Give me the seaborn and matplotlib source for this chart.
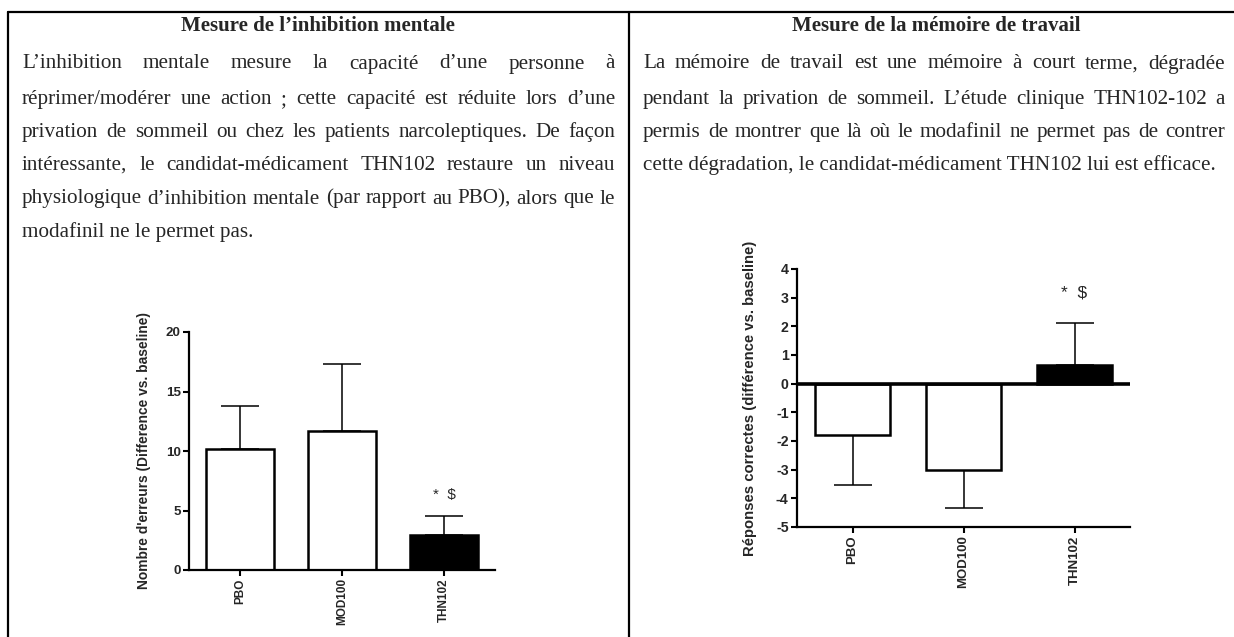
import matplotlib
matplotlib.use("Agg")
import matplotlib.pyplot as plt
from matplotlib.lines import Line2D
import seaborn as sns

# ---- data -------------------------------------------------------------
categories = ["PBO", "MOD100", "THN102"]

# left panel: number of errors (difference vs. baseline)
errors_mean = [10.2, 11.7, 2.9]
errors_sem_end = [13.8, 17.3, 4.5]
errors_colors = ["white", "white", "black"]
errors_yticks = [0, 5, 10, 15, 20]

# right panel: correct answers (difference vs. baseline)
correct_mean = [-1.8, -3.0, 0.65]
correct_sem_end = [-3.55, -4.35, 2.1]
correct_colors = ["white", "white", "black"]
correct_yticks = [-5, -4, -3, -2, -1, 0, 1, 2, 3, 4]

sig_label = "*  $"
sig_left_y = 6.3
sig_right_y = 3.15

left_title = "Mesure de l’inhibition mentale"
left_text = [
    "L’inhibition mentale mesure la capacité d’une personne à",
    "réprimer/modérer  une action ; cette capacité est réduite lors d’une",
    "privation de sommeil ou chez les patients narcoleptiques. De façon",
    "intéressante, le candidat-médicament THN102 restaure un niveau",
    "physiologique d’inhibition mentale (par rapport au PBO), alors que le",
    "modafinil ne le permet pas.",
]
right_title = "Mesure de la mémoire de travail"
right_text = [
    "La mémoire de travail est une mémoire à court terme, dégradée",
    "pendant la privation de sommeil. L’étude clinique THN102-102 a",
    "permis de montrer que là où le modafinil ne permet pas de contrer",
    "cette dégradation, le candidat-médicament THN102 lui est efficace.",
]

# ---- figure -----------------------------------------------------------
W, H = 1234, 637
sns.set_style("ticks")
plt.rcParams["font.family"] = ["Liberation Sans", "DejaVu Sans"]
plt.rcParams["axes.unicode_minus"] = False

fig = plt.figure(figsize=(W / 100, H / 100), dpi=100)
renderer = fig.canvas.get_renderer()

serif = ["Liberation Serif", "DejaVu Serif"]
body_size = 15.2
line_y = [68.5, 104, 137, 170, 203.5, 237]


def fx(px):
    return px / W


def fy(py):
    return 1 - py / H


def write_paragraph(lines, x0, x1):
    # justified lines, the last one left aligned
    for i, line in enumerate(lines):
        y = fy(line_y[i])
        if i == len(lines) - 1:
            fig.text(fx(x0), y, line, family=serif, fontsize=body_size, va="baseline")
            continue
        words = line.split()
        texts = [fig.text(0, y, w, family=serif, fontsize=body_size, va="baseline")
                 for w in words]
        widths = [t.get_window_extent(renderer).width for t in texts]
        gap = (x1 - x0 - sum(widths)) / (len(words) - 1)
        x = x0
        for t, w in zip(texts, widths):
            t.set_x(fx(x))
            x += w + gap


# table borders
for line in [
    Line2D([fx(8), 1], [fy(11.5), fy(11.5)]),
    Line2D([fx(8), fx(8)], [0, fy(11.5)]),
    Line2D([fx(628.5), fx(628.5)], [0, fy(11.5)]),
]:
    line.set_color("black")
    line.set_linewidth(1.6)
    fig.add_artist(line)

fig.text(fx(318), fy(30.7), left_title, family=serif, fontsize=15,
         fontweight="bold", ha="center", va="baseline")
fig.text(fx(936), fy(30.7), right_title, family=serif, fontsize=15,
         fontweight="bold", ha="center", va="baseline")
write_paragraph(left_text, 22, 615)
write_paragraph(right_text, 643, 1225)


def bar_panel(ax, means, ends, colors, yticks, ylabel, tick_size, cat_size, label_size):
    sns.barplot(x=categories, y=means, hue=categories, palette=colors,
                saturation=1, width=0.67, edgecolor="black", linewidth=1.8,
                legend=False, ax=ax, zorder=2)
    lower = [m - e if e < m else 0 for m, e in zip(means, ends)]
    upper = [e - m if e > m else 0 for m, e in zip(means, ends)]
    ax.errorbar(range(len(categories)), means, yerr=[lower, upper], fmt="none",
                ecolor="black", elinewidth=1.1, capsize=13.7, capthick=1.1, zorder=1)
    ax.set_xlim(-0.5, len(categories) - 0.5)
    ax.set_ylim(yticks[0], yticks[-1])
    ax.set_yticks(yticks)
    ax.set_xticks(range(len(categories)))
    ax.set_xticklabels(categories, rotation=90, fontsize=cat_size, fontweight="bold")
    for lab in ax.get_yticklabels():
        lab.set_fontweight("bold")
        lab.set_fontsize(tick_size)
    ax.set_ylabel(ylabel, fontsize=label_size, fontweight="bold")
    ax.set_xlabel("")
    sns.despine(ax=ax)
    for s in ["left", "bottom"]:
        ax.spines[s].set_linewidth(1.6)
        ax.spines[s].set_color("black")
    ax.tick_params(axis="both", direction="out", length=4.5, width=1.5,
                   color="black", pad=1.5)
    ax.set_facecolor("none")


ax1 = fig.add_axes([fx(189), fy(570), fx(495 - 189), (570 - 332) / H])
bar_panel(ax1, errors_mean, errors_sem_end, errors_colors, errors_yticks,
          "Nombre d'erreurs (Difference vs. baseline)", 9.6, 8.5, 9.95)
ax1.yaxis.set_label_coords(-0.124, 0.5)
ax1.text(2, sig_left_y, sig_label, ha="center", va="center", fontsize=11)

ax2 = fig.add_axes([fx(797), fy(527), fx(1130 - 797), (527 - 269) / H])
bar_panel(ax2, correct_mean, correct_sem_end, correct_colors, correct_yticks,
          "Réponses correctes (différence vs. baseline)", 10.2, 9.5, 10.7)
ax2.axhline(0, color="black", linewidth=2.6, zorder=3)
ax2.yaxis.set_label_coords(-0.12, 0.5)
ax2.text(2, sig_right_y, sig_label, ha="center", va="center", fontsize=12.5)

fig.savefig("out.png", dpi=100)
